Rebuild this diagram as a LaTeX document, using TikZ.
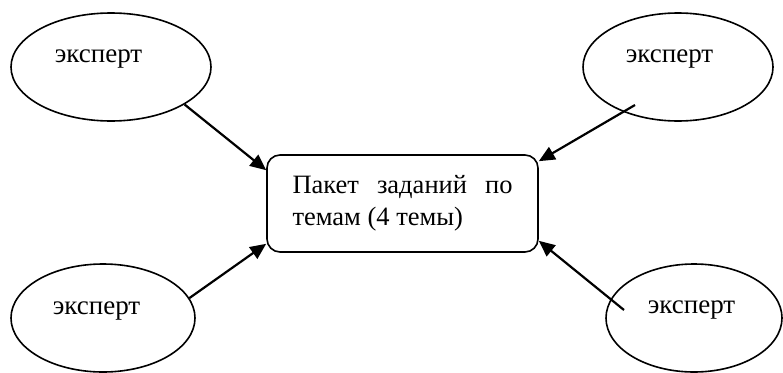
\documentclass[tikz,border=0pt]{standalone}
\usepackage{fontspec}
\setmainfont{Liberation Serif}
\usetikzlibrary{shapes.geometric,arrows.meta,calc}
\begin{document}
\begin{tikzpicture}[x=1pt,y=-1pt,
  expert/.style={ellipse,draw,line width=1.6pt,inner sep=0pt},
  lbl/.style={font=\fontsize{27}{32}\selectfont,anchor=base,inner sep=0pt},
  task/.style={draw,rounded corners=13pt,line width=1.6pt,minimum width=271pt,minimum height=97pt,align=left,font=\fontsize{26.5}{32}\selectfont,inner sep=0pt},
  arr/.style={line width=2.2pt,-{Triangle[length=16pt,width=14pt]}}]
\useasboundingbox (0,0) rectangle (783,372);
\node[expert,minimum width=200pt,minimum height=108pt] (e1) at (111,67) {};
\node[expert,minimum width=190pt,minimum height=108pt] (e2) at (678,67) {};
\node[expert,minimum width=184pt,minimum height=108pt] (e3) at (103,318) {};
\node[expert,minimum width=176pt,minimum height=108pt] (e4) at (694,318) {};
\node[lbl] (t1) at (98.5,62) {эксперт};
\node[lbl] (t2) at (669.5,62) {эксперт};
\node[lbl] (t3) at (96.5,314) {эксперт};
\node[lbl] (t4) at (691.5,313) {эксперт};
\node[task] (b) at (402.5,203.5) {\hbox to 220pt{Пакет\hfill заданий\hfill по}\\темам (4 темы)};
\coordinate (s2) at ($(e2.center)+(-43,38)$);
\coordinate (s4) at ($(e4.center)+(-70,-8)$);
\draw[arr] (e1.-27) -- ([yshift=-16pt]b.north west);
\draw[arr] (s2) -- ([yshift=-7pt]b.north east);
\draw[arr] (e3.13) -- ([yshift=9pt]b.south west);
\draw[arr] (s4) -- ([yshift=12pt]b.south east);
\end{tikzpicture}
\end{document}
